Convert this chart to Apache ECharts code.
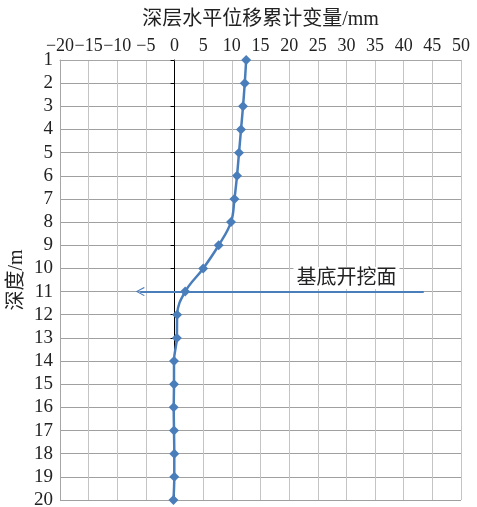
<!DOCTYPE html>
<html><head><meta charset="utf-8">
<script src="https://cdn.jsdelivr.net/npm/echarts@6/dist/echarts.min.js"></script>
<style>html,body{margin:0;padding:0;background:#fff}#c{width:477px;height:507px}</style>
</head><body><div id="c"></div>
<script>
var depths = [1,2,3,4,5,6,7,8,9,10,11,12,13,14,15,16,17,18,19,20];
var displacement = [12.5,12.25,11.95,11.6,11.25,10.9,10.45,9.85,7.7,5.0,1.85,0.45,0.4,-0.1,-0.1,-0.15,-0.1,-0.05,-0.05,-0.2];
var xTicks = {min:-20, max:50, interval:5};
var excavation = {depth:11, from:43.5, to:-6, labelX:30, label:'基底开挖面'};
var xTitle = '深层水平位移累计变量/mm';
var yTitle = '深度/m';

var FONT = 'Times New Roman, Liberation Serif, Noto Sans CJK SC, serif';
var C = '#4A7EBB';
var chart = echarts.init(document.getElementById('c'), null, {renderer:'canvas'});
chart.setOption({
  animation:false,
  backgroundColor:'#fff',
  grid:{left:60, top:60, right:16, bottom:7, containLabel:false, outerBoundsMode:'none'},
  xAxis:{type:'value', position:'top', min:xTicks.min, max:xTicks.max, interval:xTicks.interval,
    name:xTitle, nameLocation:'middle', nameGap:30, nameMoveOverlap:false,
    nameTextStyle:{fontFamily:FONT, fontSize:20, color:'#222'},
    axisLine:{onZero:false, lineStyle:{color:'#a6a6a6'}},
    axisTick:{show:false},
    axisLabel:{fontFamily:FONT, fontSize:18, color:'#222', margin:5, showMinLabel:true, showMaxLabel:true, hideOverlap:false,
      formatter:function(v){return v<0?'\u2212'+Math.abs(v):String(v);}},
    splitLine:{show:true, lineStyle:{color:'#c4c4c4', width:1}}
  },
  yAxis:[{type:'value', inverse:true, min:1, max:20, interval:1, position:'left',
    name:yTitle, nameLocation:'middle', nameGap:33, nameRotate:90, nameMoveOverlap:false,
    nameTextStyle:{fontFamily:FONT, fontSize:20, color:'#222'},
    axisLine:{show:true, onZero:false, lineStyle:{color:'#a6a6a6'}},
    axisTick:{show:false},
    axisLabel:{fontFamily:FONT, fontSize:19, color:'#222', margin:7, showMinLabel:true, showMaxLabel:true, hideOverlap:false},
    splitLine:{show:true, lineStyle:{color:'#a0a0a0', width:1}}
  },{type:'value', inverse:true, min:1, max:20, interval:1, position:'left',
    axisLine:{show:true, onZero:true, lineStyle:{color:'#000', width:1}},
    axisTick:{show:true, inside:false, length:4, lineStyle:{color:'#000'}},
    axisLabel:{show:false}, splitLine:{show:false}
  }],
  series:[{
    type:'line', yAxisIndex:0,
    data: depths.map(function(d,i){return [displacement[i], d];}),
    smooth:0.4, symbol:'diamond', symbolSize:10,
    lineStyle:{color:C, width:2.5}, itemStyle:{color:C},
    z:5
  },{
    type:'line', yAxisIndex:0, data:[], 
    markLine:{silent:true, symbol:['none','path://M0,10 L5,0 L10,10 L9,10.9 L5,2.6 L1,10.9 Z'], symbolSize:[9,9],
      lineStyle:{color:C, width:2, type:'solid'}, label:{show:false},
      data:[[{coord:[excavation.from, excavation.depth]},{coord:[excavation.to, excavation.depth]}]]},
    markPoint:{silent:true, symbol:'rect', symbolSize:1, itemStyle:{color:'rgba(0,0,0,0)'},
      label:{show:true, position:'top', distance:2, formatter:excavation.label,
        fontFamily:FONT, fontSize:20, color:'#222', backgroundColor:'#fff', padding:[2,3,0,3]},
      data:[{coord:[excavation.labelX, excavation.depth]}]}
  }]
});
</script></body></html>
